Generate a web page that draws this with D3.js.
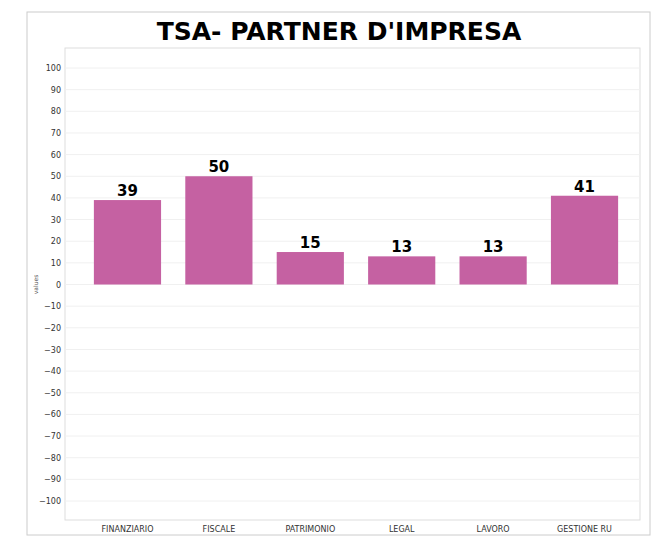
<!DOCTYPE html>
<html><head><meta charset="utf-8">
<script src="https://cdn.jsdelivr.net/npm/d3@7"></script>
<style>body{margin:0;background:#fff}text{font-family:"DejaVu Sans",sans-serif}</style>
</head><body><svg id="c" width="667" height="547"></svg>
<script>
const categories=["FINANZIARIO","FISCALE","PATRIMONIO","LEGAL","LAVORO","GESTIONE RU"];
const values=[39,50,15,13,13,41];
const ticks=d3.range(-100,101,10);
const svg=d3.select("#c");
svg.append("rect").attr("x",27).attr("y",12).attr("width",623).attr("height",523).attr("fill","none").attr("stroke","#ccc");
const L=65,R=640,T=48,B=520;
svg.append("rect").attr("x",L).attr("y",T).attr("width",R-L).attr("height",B-T).attr("fill","none").attr("stroke","#ddd");
const y=d3.scaleLinear().domain([-100,100]).range([501,68]);
const x=d3.scaleBand().domain(categories).range([82,630]).paddingInner(0.265).paddingOuter(0.13);
svg.append("g").selectAll("line").data(ticks).join("line").attr("x1",L).attr("x2",R).attr("y1",d=>y(d)).attr("y2",d=>y(d)).attr("stroke","#f0f0f0");
const ya=svg.append("g").attr("transform",`translate(${L},0)`).call(d3.axisLeft(y).tickValues(ticks).tickSize(0).tickPadding(4));
ya.select(".domain").remove();
ya.selectAll("text").attr("font-size",8).attr("fill","#333");
const xa=svg.append("g").attr("transform",`translate(0,${B})`).call(d3.axisBottom(x).tickSize(0).tickPadding(6));
xa.select(".domain").remove();
xa.selectAll("text").attr("font-size",8).attr("fill","#333");
svg.append("g").selectAll("rect").data(values).join("rect").attr("x",(d,i)=>x(categories[i])).attr("width",x.bandwidth())
 .attr("y",d=>y(d)).attr("height",d=>y(0)-y(d)).attr("fill","#c561a2");
svg.append("g").selectAll("text").data(values).join("text").attr("x",(d,i)=>x(categories[i])+x.bandwidth()/2).attr("y",d=>y(d)-4)
 .attr("text-anchor","middle").attr("font-size",15).attr("font-weight","bold").text(d=>d);
svg.append("text").attr("x",339).attr("y",40).attr("text-anchor","middle").attr("font-size",25).attr("font-weight","bold").text("TSA- PARTNER D'IMPRESA");
svg.append("text").attr("transform",`translate(38,${y(0)}) rotate(-90)`).attr("text-anchor","middle").attr("font-size",6).attr("fill","#555").text("values");
</script></body></html>
